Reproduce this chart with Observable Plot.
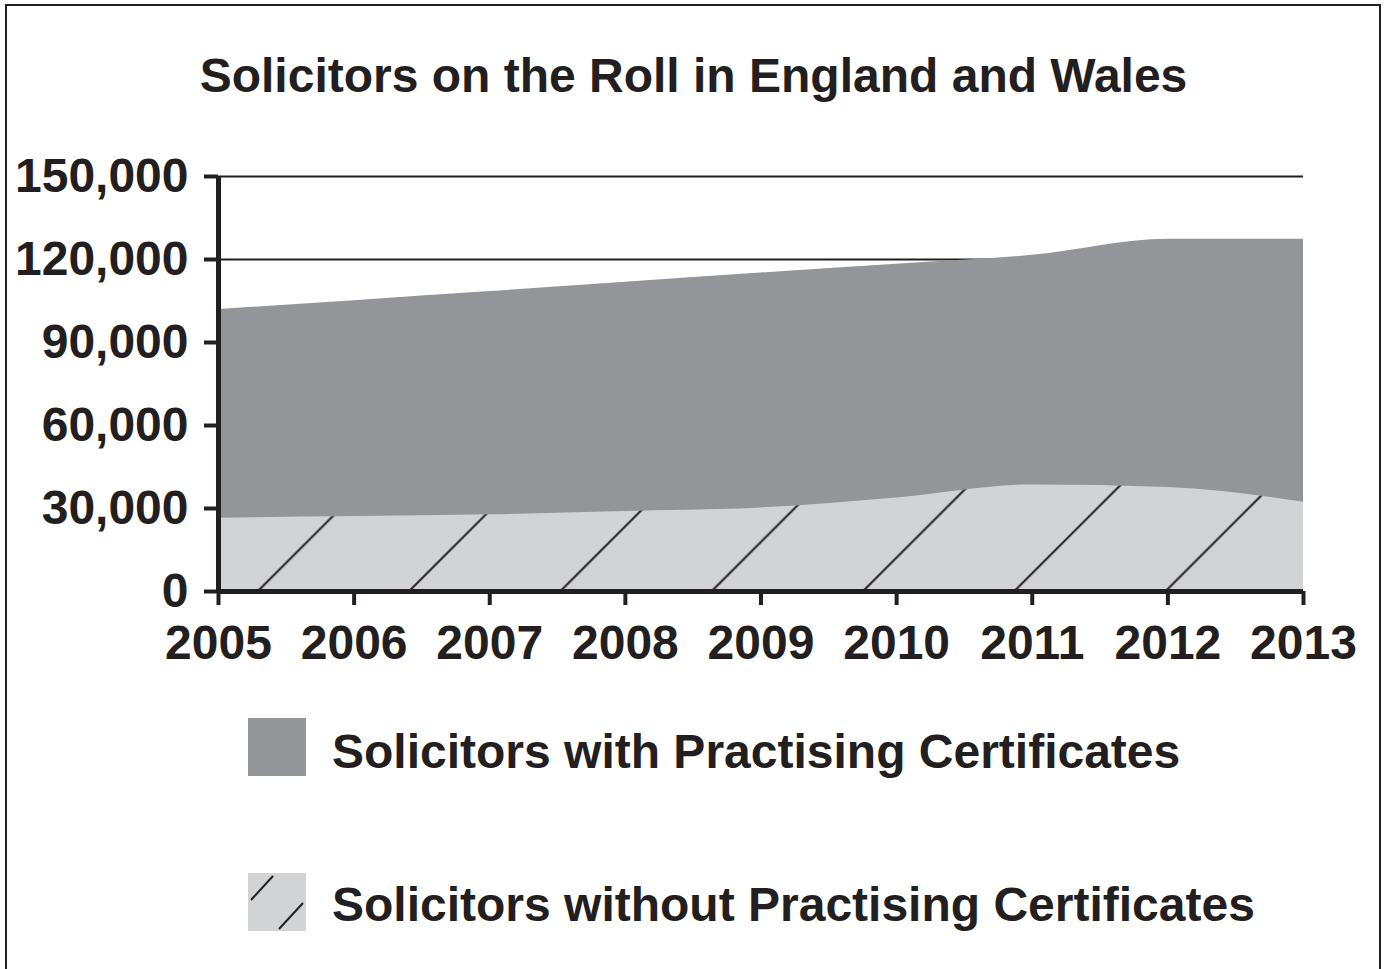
<!DOCTYPE html>
<html>
<head>
<meta charset="utf-8">
<script src="https://cdn.jsdelivr.net/npm/d3@7"></script>
<script src="https://cdn.jsdelivr.net/npm/@observablehq/plot@0.6"></script>
<style>
  html, body { margin: 0; padding: 0; background: #fff; }
  body { width: 1387px; height: 969px; overflow: hidden; position: relative;
         font-family: "Liberation Sans", Arial, sans-serif; font-weight: bold; color: #231f20; }
  #frame { position: absolute; left: 5px; top: 4px; width: 1376px; height: 1010px;
           box-sizing: border-box; border: 2px solid #231f20; }
  #chart { position: absolute; left: 0; top: 0; }
  .txt { position: absolute; font-size: 48px; line-height: 48px; white-space: nowrap; }
  #title { left: 0; width: 1387px; text-align: center; top: 52px; }
  .sw { position: absolute; left: 248px; }
</style>
</head>
<body>
<div id="frame"></div>
<div id="chart"></div>
<div id="title" class="txt">Solicitors on the Roll in England and Wales</div>
<svg class="sw" style="top:718px" width="58" height="58"><rect width="58" height="58" fill="#939598"/></svg>
<div class="txt" style="left:332px; top:728px">Solicitors with Practising Certificates</div>
<svg class="sw" style="top:873px" width="58" height="58">
  <rect width="58" height="58" fill="#d1d3d4"/>
  <line x1="3" y1="27" x2="25" y2="3" stroke="#231f20" stroke-width="2"/>
  <line x1="31" y1="56" x2="55" y2="30" stroke="#231f20" stroke-width="2"/>
</svg>
<div class="txt" style="left:332px; top:881px">Solicitors without Practising Certificates</div>
<script>
const years = [2005, 2006, 2007, 2008, 2009, 2010, 2011, 2012, 2013];
const withPC = [101900, 105100, 108400, 111800, 115100, 118300, 121500, 127300, 127300];
const withoutPC = [26500, 27100, 27700, 28900, 30200, 33800, 38500, 37600, 32300];
const yTicks = [0, 30000, 60000, 90000, 120000, 150000];

const data = years.map((year, i) => ({year, withPC: withPC[i], withoutPC: withoutPC[i]}));
const ink = "#231f20";

const chart = Plot.plot({
  width: 1387,
  height: 680,
  marginLeft: 218,
  marginRight: 84,
  marginTop: 176,
  marginBottom: 89,
  style: {fontFamily: "'Liberation Sans', Arial, sans-serif", fontSize: "48px", fontWeight: "bold",
          color: ink, background: "transparent", overflow: "visible"},
  x: {domain: [2005, 2013]},
  y: {domain: [0, 150000]},
  marks: [
    Plot.gridY(yTicks, {stroke: ink, strokeOpacity: 1, strokeWidth: 2}),
    Plot.areaY(data, {x: "year", y: "withPC", fill: "#939598", curve: "monotone-x"}),
    Plot.areaY(data, {x: "year", y: "withoutPC", fill: "url(#hatch)", curve: "monotone-x"}),
    Plot.ruleX([2005], {y1: 0, y2: 150000, stroke: ink, strokeWidth: 5}),
    Plot.ruleY([0], {stroke: ink, strokeWidth: 5}),
    Plot.axisY(yTicks, {tickSize: 14, tickPadding: 16, stroke: ink, strokeWidth: 4,
                        tickFormat: d3.format(","), label: null}),
    Plot.axisX(years, {tickSize: 14, tickPadding: 19, stroke: ink, strokeWidth: 4,
                       tickFormat: d => String(d), label: null})
  ]
});

// hatch pattern for the "without" area
const NS = "http://www.w3.org/2000/svg";
const W = 151.3;
const defs = document.createElementNS(NS, "defs");
const pat = document.createElementNS(NS, "pattern");
pat.setAttribute("id", "hatch");
pat.setAttribute("patternUnits", "userSpaceOnUse");
pat.setAttribute("width", W);
pat.setAttribute("height", W);
pat.setAttribute("patternTransform", "translate(92.5,0)");
const bg = document.createElementNS(NS, "rect");
bg.setAttribute("width", W); bg.setAttribute("height", W); bg.setAttribute("fill", "#d1d3d4");
pat.appendChild(bg);
for (const [a, b, c, d] of [[-3, W + 3, W + 3, -3], [-3, 3, 3, -3], [W - 3, W + 3, W + 3, W - 3]]) {
  const ln = document.createElementNS(NS, "line");
  ln.setAttribute("x1", a); ln.setAttribute("y1", b); ln.setAttribute("x2", c); ln.setAttribute("y2", d);
  ln.setAttribute("stroke", ink); ln.setAttribute("stroke-width", 2);
  pat.appendChild(ln);
}
defs.appendChild(pat);
chart.insertBefore(defs, chart.firstChild);
document.getElementById("chart").appendChild(chart);
</script>
</body>
</html>
